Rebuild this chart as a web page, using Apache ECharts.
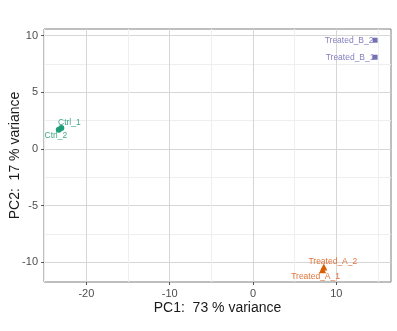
<!DOCTYPE html>
<html>
<head>
<meta charset="utf-8">
<script src="https://cdn.jsdelivr.net/npm/echarts@6/dist/echarts.min.js"></script>
<style>html,body{margin:0;padding:0;background:#fff}#c{width:397px;height:331px}</style>
</head>
<body>
<div id="c"></div>
<script>
// Data
const sampleNames = ['Ctrl_1', 'Ctrl_2', 'Treated_A_1', 'Treated_A_2', 'Treated_B_1', 'Treated_B_2'];
const sampleGroups = ['Ctrl', 'Ctrl', 'Treated_A', 'Treated_A', 'Treated_B', 'Treated_B'];
const pc1Values = [-23.0, -23.3, 8.35, 8.5, 14.65, 14.65];
const pc2Values = [1.85, 1.7, -10.65, -10.4, 8.1, 9.6];
const groups = ['Ctrl', 'Treated_A', 'Treated_B'];
const xTickLabels = [-20, -10, 0, 10];
const yTickLabels = [-10, -5, 0, 5, 10];
const xGridValues = [-25, -20, -15, -10, -5, 0, 5, 10, 15];
const yGridValues = [-10, -7.5, -5, -2.5, 0, 2.5, 5, 7.5, 10];
const xTitle = 'PC1:  73 % variance';
const yTitle = 'PC2:  17 % variance';

// Styles (not data)
const groupStyle = {
  'Ctrl': {color: '#1B9E77', label: '#3FA888', symbol: 'circle', size: 6},
  'Treated_A': {color: '#D95F02', label: '#E0743A', symbol: 'triangle', size: 7},
  'Treated_B': {color: '#7570B3', label: '#8480BE', symbol: 'rect', size: 5}
};
const labelOffset = {
  'Ctrl_1': [8, -5], 'Ctrl_2': [-3, 6],
  'Treated_A_1': [-7, 7], 'Treated_A_2': [9, -5],
  'Treated_B_1': [-25, 0], 'Treated_B_2': [-26, 0]
};

const FONT = 'Liberation Sans, Arial, sans-serif';
const series = groups.map(g => ({
  type: 'scatter',
  name: g,
  xAxisIndex: 0, yAxisIndex: 0,
  symbol: groupStyle[g].symbol,
  symbolSize: groupStyle[g].size,
  itemStyle: {color: groupStyle[g].color, opacity: 1},
  data: sampleNames.map((n, i) => ({n, i})).filter(o => sampleGroups[o.i] === g).map(o => ({
    name: o.n,
    value: [pc1Values[o.i], pc2Values[o.i]],
    label: {
      show: true, position: 'inside', offset: labelOffset[o.n],
      formatter: '{b}', color: groupStyle[g].label,
      fontSize: 8.5, fontFamily: FONT, align: 'center', verticalAlign: 'middle'
    }
  })),
  z: 5
}));

const xMin = -25.08, xMax = 16.56, yMin = -11.73, yMax = 10.59;
const gridBox = {left: 44, right: 6, top: 29, bottom: 49};

const option = {
  animation: false,
  backgroundColor: '#ffffff',
  grid: Object.assign({show: true, borderColor: '#7f7f7f', borderWidth: 1, backgroundColor: 'transparent', containLabel: false, outerBoundsMode: 'none'}, gridBox),
  xAxis: [{
    type: 'value', min: xMin, max: xMax, position: 'bottom',
    axisLine: {show: false, onZero: false},
    axisTick: {show: false, customValues: xGridValues},
    axisLabel: {customValues: xTickLabels, color: '#4d4d4d', fontSize: 11, fontFamily: FONT, margin: 6},
    splitLine: {show: true, lineStyle: {color: ['#eeeeee', '#d6d6d6'], width: 1}},
    name: xTitle, nameLocation: 'middle', nameGap: 19, nameMoveOverlap: false,
    nameTextStyle: {color: '#1a1a1a', fontSize: 14, fontFamily: FONT}
  }, {
    type: 'value', min: xMin, max: xMax, position: 'bottom',
    axisLine: {show: false, onZero: false},
    axisTick: {show: true, customValues: xTickLabels, length: 3, lineStyle: {color: '#555'}},
    axisLabel: {show: false}, splitLine: {show: false}
  }],
  yAxis: [{
    type: 'value', min: yMin, max: yMax, position: 'left',
    axisLine: {show: false, onZero: false},
    axisTick: {show: false, customValues: yGridValues},
    axisLabel: {customValues: yTickLabels, color: '#4d4d4d', fontSize: 11, fontFamily: FONT, margin: 6},
    splitLine: {show: true, lineStyle: {color: ['#d6d6d6', '#eeeeee'], width: 1}},
    name: yTitle, nameLocation: 'middle', nameGap: 22, nameRotate: 90, nameMoveOverlap: false,
    nameTextStyle: {color: '#1a1a1a', fontSize: 14, fontFamily: FONT}
  }, {
    type: 'value', min: yMin, max: yMax, position: 'left',
    axisLine: {show: false, onZero: false},
    axisTick: {show: true, customValues: yTickLabels, length: 3, lineStyle: {color: '#555'}},
    axisLabel: {show: false}, splitLine: {show: false}
  }],
  series: series
};

const chart = echarts.init(document.getElementById('c'), null, {renderer: 'canvas'});
chart.setOption(option);
</script>
</body>
</html>
